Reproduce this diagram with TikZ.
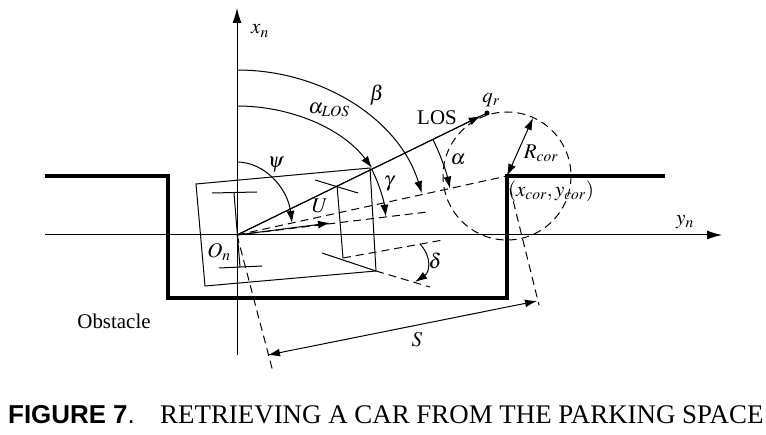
\documentclass[tikz,border=0pt]{standalone}
\usepackage{mathptmx}
\usepackage{fontspec}
\setmainfont{Liberation Serif}
\setsansfont{Liberation Sans}
\usetikzlibrary{arrows.meta,calc}
\tikzset{
  thinline/.style={line width=1bp},
  wall/.style={line width=3.5bp},
  dashline/.style={line width=1bp, dash pattern=on 8bp off 5bp},
  arr/.style={-{Latex[length=12bp,width=8bp]}},
  axisarr/.style={line width=1bp, -{Latex[length=15bp,width=9bp]}},
  lbl/.style={inner sep=0pt, font=\fontsize{21}{25}\selectfont},
}
\begin{document}
\begin{tikzpicture}[x=1bp,y=-1bp]
\useasboundingbox (0,0) rectangle (766,435);
\coordinate (On) at (237,235);
\coordinate (xtop) at (237,8);
\coordinate (xbot) at (237,355);
\coordinate (yleft) at (45,235);
\coordinate (yright) at (722,235);
\draw[axisarr] (xbot) -- (xtop);
\draw[axisarr] (yleft) -- (yright);
\coordinate (ob0) at (45,176);
\coordinate (ob1) at (168,176);
\coordinate (ob2) at (168,298);
\coordinate (ob3) at (507,298);
\coordinate (cor) at (507,176);
\coordinate (ob5) at (665,176);
\draw[wall] (ob0) -- (ob1) -- (ob2) -- (ob3) -- (cor) -- (ob5);
\coordinate (car0) at (196,184);
\coordinate (car1) at (370,168);
\coordinate (car2) at (376,271);
\coordinate (car3) at (205,286);
\draw[thinline] (car0) -- (car1) -- (car2) -- (car3) -- cycle;
\coordinate (rw0a) at (212,193);
\coordinate (rw0b) at (257,192);
\coordinate (rw1a) at (219,268);
\coordinate (rw1b) at (262,266);
\coordinate (ra0) at (234,193);
\coordinate (ra1) at (240,267);
\draw[thinline] (rw0a) -- (rw0b);
\draw[thinline] (rw1a) -- (rw1b);
\draw[thinline] (ra0) -- (ra1);
\coordinate (fa0) at (337,185);
\coordinate (fa1) at (343,258);
\coordinate (fw0a) at (315,180);
\coordinate (fw0b) at (358,193);
\coordinate (fw1a) at (322,253);
\coordinate (fw1c) at (430,287);
\coordinate (dref) at (443,240);
\draw[thinline] (fa0) -- (fa1);
\draw[thinline] (fw0a) -- (fw0b);
\draw[thinline] (fw1a) -- (car2);
\draw[dashline] (car2) -- (fw1c);
\draw[dashline] (fa1) -- (dref);
\coordinate (hd) at (427,212);
\coordinate (Utip) at (330,223);
\draw[dashline] (On) -- (hd);
\draw[thinline,arr] (On) -- (Utip);
\draw[dashline] (On) -- (cor);
\coordinate (pl) at (273,372);
\coordinate (pr) at (539,305);
\draw[dashline] (On) -- (pl);
\draw[dashline] (cor) -- (pr);
\coordinate (sl) at (268,355);
\coordinate (sr) at (537,301);
\draw[thinline,{Latex[length=12bp,width=8bp]}-{Latex[length=12bp,width=8bp]}] (sl) -- (sr);
\coordinate (qr) at (487,113);
\coordinate (LOStip) at ($(On)!0.975!(qr)$);
\draw[thinline] (On) -- (qr);
\draw[thinline,arr] (On) -- (LOStip);
\fill (qr) circle[radius=2.5];
\draw[dashline] (cor) circle[radius=64];
\coordinate (rc) at (533,118);
\draw[thinline,{Latex[length=12bp,width=8bp]}-{Latex[length=12bp,width=8bp]}] (cor) -- (rc);
\coordinate (psi0) at (237,162);
\coordinate (alos0) at (237,106);
\coordinate (beta0) at (237,70);
\draw[thinline,arr] (psi0) arc[start angle=-90, end angle=-9.5, x radius=55.8, y radius=73];
\draw[thinline,arr] (alos0) arc[start angle=-90, end angle=-31.3, x radius=158, y radius=129];
\draw[thinline,arr] (beta0) arc[start angle=-90, end angle=-14.7, x radius=191, y radius=165];
\draw[thinline,arr] ([shift={(-26:150)}]On) arc[start angle=-26, end angle=-7, radius=150];
\draw[thinline,arr] ([shift={(-26:218)}]On) arc[start angle=-26, end angle=-12.3, radius=218];
\coordinate (dl0) at (420,244);
\coordinate (dl1) at (415,282);
\draw[thinline,arr] (dl0) .. controls (432,257) and (430,272) .. (dl1);
\node[lbl] (xnl) at (260,31) {$x_n$};
\node[lbl] (ynl) at (685,222) {$y_n$};
\node[lbl] (betal) at (377,95) {$\beta$};
\node[lbl] (alosl) at (329,110) {$\alpha_{LOS}$};
\node[lbl] (losl) at (437,118) {LOS};
\node[lbl] (qrl) at (491,100) {$q_r$};
\node[lbl] (alphal) at (458,160) {$\alpha$};
\node[lbl] (rcorl) at (541,153) {$R_{cor}$};
\node[lbl] (corl) at (551,191) {$(x_{cor}, y_{cor})$};
\node[lbl] (psil) at (276,165) {$\psi$};
\node[lbl] (gammal) at (389,184) {$\gamma$};
\node[lbl] (Ul) at (320,206) {$U$};
\node[lbl] (Onl) at (219,252) {$O_n$};
\node[lbl] (deltal) at (435,261) {$\delta$};
\node[lbl] (Sl) at (417,340) {$S$};
\node[lbl] (obsl) at (114,321) {Obstacle};
\node[anchor=base west, inner sep=0pt, font=\sffamily\bfseries\fontsize{26}{30}\selectfont] (capnum) at (8,423) {FIGURE 7\textmd{.}};
\node[anchor=base west, inner sep=0pt, font=\fontsize{27}{31}\selectfont] (captxt) at (160,423) {RETRIEVING A CAR FROM THE PARKING SPACE};
\end{tikzpicture}
\end{document}
